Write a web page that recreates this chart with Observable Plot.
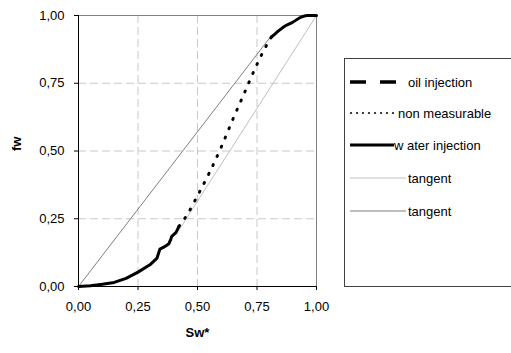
<!DOCTYPE html>
<html><head><meta charset="utf-8">
<script src="https://cdn.jsdelivr.net/npm/d3@7"></script>
<script src="https://cdn.jsdelivr.net/npm/@observablehq/plot@0.6"></script>
<style>body{margin:0;background:#fff;font-family:"Liberation Sans",Arial,sans-serif}</style>
</head><body><div id="chart"></div>
<script>
const xTicks = [0, 0.25, 0.5, 0.75, 1];
const yTicks = [0, 0.25, 0.5, 0.75, 1];
const gridVals = [0.25, 0.5, 0.75];
// water injection, low part
const waterLowSw = [0, 0.05, 0.1, 0.15, 0.2, 0.25, 0.3, 0.33, 0.336, 0.342, 0.36, 0.38, 0.388, 0.392, 0.41, 0.422];
const waterLowFw = [0, 0.003, 0.008, 0.015, 0.03, 0.053, 0.08, 0.105, 0.122, 0.138, 0.146, 0.158, 0.175, 0.185, 0.2, 0.222];
// water injection, high part
const waterHighSw = [0.81, 0.83, 0.86, 0.9, 0.935, 0.96, 1.0];
const waterHighFw = [0.92, 0.935, 0.957, 0.975, 0.994, 1.0, 1.0];
// non measurable
const nonMeasSw = [0.422, 0.46, 0.5, 0.55, 0.6, 0.65, 0.7, 0.75, 0.79, 0.81];
const nonMeasFw = [0.222, 0.27, 0.335, 0.42, 0.515, 0.62, 0.72, 0.82, 0.89, 0.92];
// tangents
const tangentLightSw = [0.42, 1.0];
const tangentLightFw = [0.205, 1.0];
const tangentDarkSw = [0, 0.81];
const tangentDarkFw = [0, 0.925];
const legendLabels = ["oil injection", "non measurable", "w ater injection", "tangent", "tangent"];

const zip = (xs, ys) => xs.map((x, i) => ({x, y: ys[i]}));
const fmt = d => d.toFixed(2).replace(".", ",");

const plot = Plot.plot({
  width: 511, height: 353,
  marginLeft: 78, marginRight: 195, marginTop: 15, marginBottom: 67,
  style: {fontFamily: "Liberation Sans, Arial, sans-serif", fontSize: "13px", background: "#fff", color: "#000"},
  x: {domain: [0, 1]},
  y: {domain: [0, 1]},
  marks: [
    Plot.ruleX(gridVals, {stroke: "#c8c8c8", strokeDasharray: "8,4"}),
    Plot.ruleY(gridVals, {stroke: "#c8c8c8", strokeDasharray: "8,4"}),
    Plot.ruleY([1], {stroke: "#808080"}),
    Plot.ruleX([1], {stroke: "#808080"}),
    Plot.line(zip(tangentDarkSw, tangentDarkFw), {x: "x", y: "y", stroke: "#808080", strokeWidth: 1}),
    Plot.line(zip(tangentLightSw, tangentLightFw), {x: "x", y: "y", stroke: "#c0c0c0", strokeWidth: 1}),
    Plot.line(zip(nonMeasSw, nonMeasFw), {x: "x", y: "y", stroke: "#000", strokeWidth: 3, strokeDasharray: "1,9", strokeLinecap: "round", curve: "monotone-x"}),
    Plot.line(zip(waterLowSw, waterLowFw), {x: "x", y: "y", stroke: "#000", strokeWidth: 3, curve: "linear"}),
    Plot.line(zip(waterHighSw, waterHighFw), {x: "x", y: "y", stroke: "#000", strokeWidth: 3, curve: "monotone-x"}),
    Plot.ruleX([0], {stroke: "#000"}),
    Plot.ruleY([0], {stroke: "#000"}),
    Plot.axisX({ticks: xTicks, tickFormat: fmt, tickSize: 4, tickPadding: 11, fontSize: 13, label: null}),
    Plot.axisY({ticks: yTicks, tickFormat: fmt, tickSize: 4, tickPadding: 10, fontSize: 13, label: null}),
    Plot.text(["Sw*"], {frameAnchor: "bottom", dy: 50, fontWeight: "bold", fontSize: 13}),
    Plot.text(["fw"], {frameAnchor: "left", dx: -62, rotate: -90, fontWeight: "bold", fontSize: 13})
  ]
});
document.getElementById("chart").appendChild(plot);

// legend
const svg = d3.select(plot);
const lg = svg.append("g").attr("text-anchor", "start");
lg.append("rect").attr("x", 344.5).attr("y", 58.5).attr("width", 200).attr("height", 228)
  .attr("fill", "#fff").attr("stroke", "#404040");
const ys = [82, 113, 145, 178, 211];
const x2s = [398, 397, 394, 406, 406];
const tx = [408, 398, 394, 408, 408];
const styles = [
  {stroke: "#000", w: 3.5, dash: "16,14"},
  {stroke: "#000", w: 1.5, dash: "2,4"},
  {stroke: "#000", w: 3, dash: null},
  {stroke: "#c0c0c0", w: 1, dash: null},
  {stroke: "#808080", w: 1, dash: null}
];
legendLabels.forEach((t, i) => {
  const s = styles[i];
  const l = lg.append("line").attr("x1", 350).attr("x2", x2s[i]).attr("y1", ys[i]).attr("y2", ys[i])
    .attr("stroke", s.stroke).attr("stroke-width", s.w);
  if (s.dash) l.attr("stroke-dasharray", s.dash);
  lg.append("text").attr("x", tx[i]).attr("y", ys[i]).attr("dy", "0.35em")
    .attr("text-anchor", "start").attr("font-size", 13).attr("fill", "#000").text(t);
});
</script>
</body></html>
